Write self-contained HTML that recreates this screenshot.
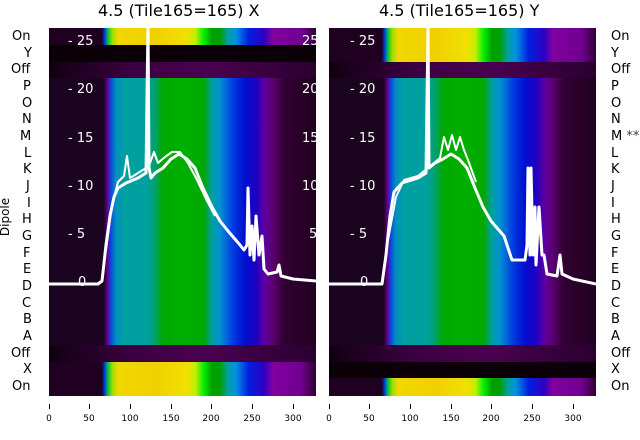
<!DOCTYPE html><html><head><style>
body{margin:0;width:640px;height:440px;background:#fff;position:relative;overflow:hidden;font-family:"DejaVu Sans","Liberation Sans",sans-serif}
.p{position:absolute;top:28px;height:368px;overflow:hidden;background:#1a0420}
.r{position:absolute;left:0;width:100%;height:17px}
.sp{background:linear-gradient(90deg,#1a0420 0%,#1a0420 20.5%,#6a0090 22%,#1040e0 23%,#0090c0 25%,#00a0a0 28.4%,#00a0a0 36.6%,#00a070 39.6%,#00a800 42.7%,#00b000 50%,#00a800 57.9%,#00a0a0 61%,#0090d0 64%,#0040e0 68.6%,#0010d0 73.2%,#2000c0 77.7%,#6000a0 80.8%,#5a0070 83.8%,#300030 88.4%,#200020 100%)}
.ye{background:linear-gradient(90deg,#200020 0%,#200020 19.8%,#0030e0 20.7%,#00c040 22%,#a0e000 23.8%,#f0d800 25.9%,#f0d000 40%,#f0e000 51.8%,#c0f000 54.9%,#00f000 57.9%,#00a000 61%,#00a000 64%,#00a0a0 67%,#0090e0 70%,#0020e0 74.7%,#3000c0 80.8%,#8000a0 83.8%,#700090 94.5%,#300030 100%)}
.dk{background:#0c0008}.of{background:linear-gradient(90deg,#100010,#3a0040 30%,#4a0050 60%,#2a0030)}
.t{position:absolute;color:#fff;font-size:13px}
.l{position:absolute;font-size:13px;color:#000}
.x{position:absolute;top:414px;font-size:9px;color:#000;width:30px;text-align:center}
.tk{position:absolute;top:404px;width:1px;height:5px;background:#000}
.h{position:absolute;top:1px;font-size:16px;color:#000}
</style></head><body>
<div class="h" style="left:98px">4.5 (Tile165=165) X</div>
<div class="h" style="left:379px">4.5 (Tile165=165) Y</div>

<div class="p" style="left:49px;width:267px">
<div class="r ye" style="top:0"></div>
<div class="r dk" style="top:17px"></div>
<div class="r of" style="top:34px"></div>
<div class="r sp" style="top:50px;height:267px"></div>
<div class="r of" style="top:317px"></div>
<div class="r ye" style="top:334px;height:34px"></div>
</div>
<div class="p" style="left:329px;width:267px">
<div class="r ye" style="top:0;height:34px"></div>
<div class="r of" style="top:34px"></div>
<div class="r sp" style="top:50px;height:267px"></div>
<div class="r of" style="top:317px"></div>
<div class="r dk" style="top:334px"></div>
<div class="r ye" style="top:350px;height:18px"></div>
</div>

<div class="t" style="left:68px;top:34px">- 25</div>
<div class="t" style="left:68px;top:82px">- 20</div>
<div class="t" style="left:68px;top:131px">- 15</div>
<div class="t" style="left:68px;top:179px">- 10</div>
<div class="t" style="left:68px;top:227px">- 5</div>
<div class="t" style="left:78px;top:275px">0</div>
<div class="t" style="left:302px;top:34px">25</div>
<div class="t" style="left:302px;top:82px">20</div>
<div class="t" style="left:302px;top:131px">15</div>
<div class="t" style="left:302px;top:179px">10</div>
<div class="t" style="left:309px;top:227px">5</div>
<div class="t" style="left:350px;top:34px">- 25</div>
<div class="t" style="left:350px;top:82px">- 20</div>
<div class="t" style="left:350px;top:131px">- 15</div>
<div class="t" style="left:350px;top:179px">- 10</div>
<div class="t" style="left:350px;top:227px">- 5</div>
<div class="t" style="left:360px;top:275px">0</div>

<svg style="position:absolute;left:0;top:0" width="640" height="440">
<defs><clipPath id="c1"><rect x="49" y="28" width="267" height="368"/></clipPath><clipPath id="c2"><rect x="329" y="28" width="267" height="368"/></clipPath></defs>
<g fill="none" stroke="#fff" stroke-width="3" stroke-linejoin="round" clip-path="url(#c1)">
<polyline points="49,284 98,284 102,281 106,245 110,216 114,197 118,188 126,183 138,178 146,173 148,24 149,168 151,178 155,173 163,168 171,159 179,154 187,159 195,168 203,188 212,207 220,221 228,231 240,245 244,250 247,245 248,188 250,255 252,226 254,260 256,216 259,255 262,236 264,269 268,274 277,272 279,265 281,276 293,279 316,281"/>
<polyline points="106,250 112,205 118,182 124,176 127,156 130,178 138,173 146,168 150,163 154,152 158,163 165,157 172,152 180,152 188,163 196,178 206,199 215,216" stroke-width="2"/>
</g>
<g fill="none" stroke="#fff" stroke-width="3" stroke-linejoin="round" clip-path="url(#c2)">
<polyline points="329,284 382,284 386,255 390,216 394,192 402,183 418,178 426,173 428,28 429,168 435,163 443,159 451,154 459,159 467,168 475,188 483,207 491,221 504,236 512,260 525,260 527,245 528,168 530,255 531,168 533,255 535,207 536,265 539,207 542,255 544,255 547,274 557,276 560,255 562,274 573,279 596,284"/>
<polyline points="388,240 396,197 404,180 418,176 440,158 444,137 448,150 452,135 456,150 460,137 464,150 468,160 476,182" stroke-width="2"/>
</g>
</svg>

<div class="l" style="left:12px;top:29px">On</div><div class="l" style="left:24px;top:46px">Y</div><div class="l" style="left:11px;top:62px">Off</div>
<div class="l" style="left:23px;top:79px">P</div><div class="l" style="left:22px;top:96px">O</div><div class="l" style="left:22px;top:112px">N</div><div class="l" style="left:20px;top:129px">M</div><div class="l" style="left:24px;top:146px">L</div><div class="l" style="left:23px;top:162px">K</div><div class="l" style="left:26px;top:179px">J</div><div class="l" style="left:27px;top:196px">I</div><div class="l" style="left:22px;top:212px">H</div><div class="l" style="left:22px;top:229px">G</div><div class="l" style="left:23px;top:246px">F</div><div class="l" style="left:23px;top:262px">E</div><div class="l" style="left:22px;top:279px">D</div><div class="l" style="left:22px;top:296px">C</div><div class="l" style="left:23px;top:312px">B</div><div class="l" style="left:23px;top:329px">A</div><div class="l" style="left:11px;top:346px">Off</div><div class="l" style="left:23px;top:362px">X</div><div class="l" style="left:12px;top:379px">On</div>
<div class="l" style="left:-14px;top:210px;transform:rotate(-90deg);font-size:12px">Dipole</div>

<div class="l" style="left:611px;top:29px">On</div><div class="l" style="left:611px;top:46px">Y</div><div class="l" style="left:611px;top:62px">Off</div>
<div class="l" style="left:611px;top:79px">P</div><div class="l" style="left:611px;top:96px">O</div><div class="l" style="left:611px;top:112px">N</div><div class="l" style="left:611px;top:129px">M <span style="color:#444">**</span></div><div class="l" style="left:611px;top:146px">L</div><div class="l" style="left:611px;top:162px">K</div><div class="l" style="left:611px;top:179px">J</div><div class="l" style="left:611px;top:196px">I</div><div class="l" style="left:611px;top:212px">H</div><div class="l" style="left:611px;top:229px">G</div><div class="l" style="left:611px;top:246px">F</div><div class="l" style="left:611px;top:262px">E</div><div class="l" style="left:611px;top:279px">D</div><div class="l" style="left:611px;top:296px">C</div><div class="l" style="left:611px;top:312px">B</div><div class="l" style="left:611px;top:329px">A</div><div class="l" style="left:611px;top:346px">Off</div><div class="l" style="left:611px;top:362px">X</div><div class="l" style="left:611px;top:379px">On</div>

<div class="tk" style="left:49px"></div><div class="tk" style="left:89px"></div><div class="tk" style="left:130px"></div><div class="tk" style="left:171px"></div><div class="tk" style="left:211px"></div><div class="tk" style="left:252px"></div><div class="tk" style="left:293px"></div>
<div class="x" style="left:34px">0</div><div class="x" style="left:74px">50</div><div class="x" style="left:115px">100</div><div class="x" style="left:156px">150</div><div class="x" style="left:196px">200</div><div class="x" style="left:237px">250</div><div class="x" style="left:278px">300</div>
<div class="tk" style="left:329px"></div><div class="tk" style="left:369px"></div><div class="tk" style="left:410px"></div><div class="tk" style="left:451px"></div><div class="tk" style="left:491px"></div><div class="tk" style="left:532px"></div><div class="tk" style="left:573px"></div>
<div class="x" style="left:314px">0</div><div class="x" style="left:354px">50</div><div class="x" style="left:395px">100</div><div class="x" style="left:436px">150</div><div class="x" style="left:476px">200</div><div class="x" style="left:517px">250</div><div class="x" style="left:558px">300</div>
</body></html>
